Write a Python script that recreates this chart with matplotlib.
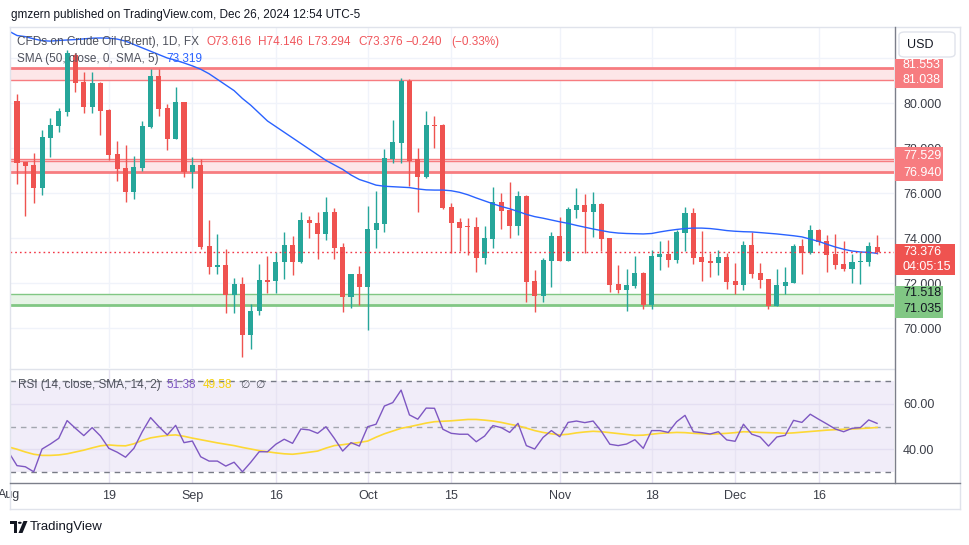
import matplotlib
matplotlib.use('Agg')
import matplotlib.pyplot as plt
from matplotlib.patches import Rectangle, FancyBboxPatch, Polygon, Circle
from matplotlib.lines import Line2D
from matplotlib.transforms import blended_transform_factory as blend
import numpy as np
import pandas as pd

plt.rcParams['font.family'] = ['Liberation Sans', 'DejaVu Sans']

# ---------------- data ----------------
dates = pd.bdate_range('2024-08-01', '2024-12-26')
dates = dates[dates != pd.Timestamp('2024-12-25')]

opens = [81.47, 80.09, 77.37, 77.24, 76.24, 78.46, 79.00, 79.62, 82.13, 80.93,
         79.84, 80.89, 79.69, 77.73, 77.11, 76.06, 77.12, 78.95, 81.20, 79.78,
         78.41, 80.04, 76.92, 77.23, 73.64, 72.70, 72.79, 71.45, 71.94, 69.70,
         70.74, 72.12, 72.08, 72.92, 73.68, 72.92, 74.80, 74.67, 74.19, 75.16,
         73.60, 71.39, 72.40, 71.84, 74.37, 74.64, 77.51, 78.24, 80.99, 77.50,
         76.70, 79.02, 79.02, 75.38, 74.71, 74.50, 74.49, 73.12, 73.97, 75.60,
         75.24, 74.55, 75.87, 72.09, 71.44, 72.99, 74.09, 72.99, 75.24, 75.47,
         75.17, 75.51, 74.00, 71.96, 71.69, 71.87, 72.44, 71.02, 73.16, 73.29,
         73.02, 74.22, 75.11, 73.16, 72.98, 72.89, 73.16, 72.09, 71.91, 73.69,
         72.44, 72.18, 70.98, 71.87, 72.00, 73.64, 73.33, 74.36, 73.87, 73.29,
         72.84, 72.62, 72.93, 72.93, 73.616]
highs = [81.60, 80.40, 77.40, 77.76, 78.80, 79.33, 79.80, 82.36, 82.22, 81.36,
         81.36, 80.92, 79.72, 78.31, 78.13, 77.64, 79.20, 81.50, 81.50, 79.97,
         80.72, 80.06, 77.59, 77.50, 74.79, 74.18, 73.50, 72.21, 72.25, 71.05,
         72.83, 73.19, 73.36, 74.25, 74.09, 75.14, 74.99, 75.16, 75.84, 75.33,
         73.78, 72.40, 72.76, 75.44, 76.09, 77.96, 79.24, 81.10, 81.06, 78.00,
         79.64, 79.42, 79.05, 75.56, 74.89, 74.89, 74.93, 74.53, 76.28, 76.00,
         76.49, 76.09, 75.90, 72.58, 73.11, 74.27, 74.93, 75.38, 76.22, 75.96,
         76.04, 75.55, 74.02, 72.79, 72.62, 73.19, 72.47, 73.47, 73.87, 73.91,
         74.36, 75.38, 75.33, 74.31, 73.33, 73.47, 73.33, 72.89, 73.87, 74.27,
         72.89, 72.20, 72.62, 72.71, 73.73, 73.96, 74.58, 74.38, 74.13, 74.18,
         73.87, 73.29, 73.38, 73.82, 74.146]
lows = [79.90, 76.40, 75.00, 75.57, 75.92, 77.60, 78.73, 79.44, 80.50, 79.57,
        79.57, 78.59, 77.47, 76.55, 75.61, 75.75, 76.99, 78.90, 79.42, 77.92,
        78.38, 76.70, 76.21, 73.52, 72.39, 72.39, 70.65, 70.65, 68.70, 69.05,
        70.60, 71.54, 71.54, 72.16, 72.34, 72.90, 74.01, 73.08, 73.91, 73.08,
        70.73, 70.90, 71.04, 69.92, 73.57, 74.28, 77.35, 77.35, 76.33, 75.17,
        76.68, 78.00, 75.30, 73.35, 73.42, 73.24, 72.50, 72.86, 73.57, 74.41,
        74.01, 74.15, 71.17, 70.73, 71.17, 71.84, 72.97, 72.97, 74.90, 73.35,
        74.06, 73.44, 71.61, 71.56, 70.77, 71.78, 70.86, 70.86, 72.58, 72.71,
        72.89, 73.42, 72.84, 72.09, 72.27, 72.36, 71.73, 71.51, 71.69, 72.22,
        71.78, 70.84, 70.96, 71.51, 71.98, 72.40, 73.29, 73.69, 72.49, 72.62,
        72.53, 72.00, 71.96, 72.76, 73.294]
closes = [80.05, 77.35, 77.20, 76.24, 78.49, 79.02, 79.64, 82.20, 80.90, 79.84,
          80.89, 79.66, 77.70, 77.08, 76.06, 77.16, 78.98, 81.20, 79.75, 78.41,
          80.04, 76.92, 77.23, 73.61, 72.70, 72.79, 71.45, 71.94, 69.70, 70.74,
          72.12, 72.06, 72.92, 73.68, 72.92, 74.79, 74.65, 74.19, 75.16, 73.57,
          71.39, 72.40, 71.84, 74.40, 74.67, 77.56, 78.27, 80.99, 77.44, 76.70,
          79.02, 78.99, 75.35, 74.68, 74.46, 74.48, 73.12, 74.00, 75.60, 75.21,
          74.55, 75.87, 72.06, 71.44, 73.02, 74.09, 72.99, 75.29, 75.47, 75.17,
          75.51, 73.97, 71.92, 71.69, 71.91, 72.44, 71.02, 73.20, 73.29, 73.02,
          74.27, 75.11, 73.11, 72.93, 72.89, 73.16, 72.04, 71.91, 73.69, 72.40,
          72.13, 70.98, 71.91, 72.04, 73.64, 73.33, 74.36, 73.82, 73.24, 72.80,
          72.62, 72.93, 72.98, 73.64, 73.376]
sma50 = [83.20, 83.00, 82.95, 82.85, 82.77, 82.75, 82.78, 82.80, 82.82, 82.85,
         82.88, 82.89, 82.88, 82.84, 82.75, 82.60, 82.45, 82.30, 82.15, 82.00,
         81.90, 81.78, 81.65, 81.50, 81.30, 81.05, 80.80, 80.55, 80.20, 79.90,
         79.55, 79.20, 78.95, 78.70, 78.45, 78.20, 77.95, 77.70, 77.45, 77.25,
         77.05, 76.80, 76.60, 76.48, 76.35, 76.30, 76.28, 76.26, 76.24, 76.18,
         76.14, 76.13, 76.13, 76.10, 76.03, 75.92, 75.78, 75.65, 75.52, 75.40,
         75.30, 75.18, 75.05, 74.95, 74.88, 74.80, 74.72, 74.65, 74.56, 74.48,
         74.40, 74.33, 74.26, 74.22, 74.20, 74.19, 74.18, 74.20, 74.27, 74.33,
         74.38, 74.42, 74.44, 74.44, 74.42, 74.38, 74.33, 74.30, 74.28, 74.27,
         74.24, 74.21, 74.18, 74.14, 74.10, 74.05, 73.95, 73.85, 73.72, 73.60,
         73.50, 73.42, 73.38, 73.36, 73.319]
rsi = [38.7, 32.8, 32.3, 30.1, 40.1, 42.3, 44.8, 52.6, 49.2, 46.0,
       49.5, 45.8, 40.4, 38.7, 36.5, 40.4, 47.7, 53.9, 49.9, 46.3,
       50.5, 42.9, 43.6, 36.7, 34.8, 34.8, 32.6, 34.3, 30.1, 34.3,
       38.9, 38.9, 42.2, 44.4, 42.6, 48.9, 48.5, 47.0, 49.9, 44.8,
       39.2, 42.9, 41.4, 49.9, 51.0, 59.0, 60.5, 66.0, 55.1, 53.2,
       58.1, 58.0, 48.8, 47.0, 46.6, 46.6, 43.3, 45.8, 50.4, 49.5,
       47.4, 51.4, 41.6, 40.1, 45.2, 48.2, 45.5, 51.8, 52.4, 51.7,
       52.4, 47.8, 42.2, 41.6, 42.3, 44.2, 40.4, 48.2, 48.2, 47.4,
       52.1, 54.9, 47.7, 47.3, 46.7, 47.7, 44.1, 43.5, 51.0, 46.6,
       45.4, 41.4, 45.4, 46.1, 52.7, 51.8, 55.4, 53.2, 51.1, 48.9,
       47.7, 49.2, 49.5, 52.9, 51.38]
rsi_sma = [41.0, 40.0, 38.8, 37.8, 37.3, 37.3, 37.5, 38.0, 38.8, 39.6,
           40.6, 41.5, 41.9, 41.6, 41.5, 42.4, 43.9, 45.0, 45.6, 46.1,
           46.3, 45.7, 44.9, 44.2, 43.5, 42.8, 42.2, 41.6, 40.8, 40.1,
           39.4, 38.9, 38.4, 38.0, 37.8, 38.2, 38.7, 39.2, 40.5, 41.6,
           42.0, 42.5, 43.0, 43.6, 45.3, 46.8, 48.0, 49.2, 49.9, 50.7,
           51.5, 52.1, 52.3, 52.5, 52.8, 53.1, 53.1, 52.8, 52.4, 51.8,
           51.0, 50.3, 49.3, 48.2, 47.4, 46.8, 46.3, 46.6, 47.2, 47.6,
           47.9, 47.7, 47.3, 46.9, 46.5, 46.1, 46.2, 46.6, 47.0, 47.2,
           47.4, 47.3, 47.0, 46.8, 46.6, 46.8, 47.0, 47.3, 47.7, 47.6,
           47.4, 47.3, 47.2, 47.0, 47.2, 47.5, 47.8, 48.1, 48.4, 48.6,
           48.8, 48.9, 49.1, 49.3, 49.58]

zone_top = (81.038, 81.553)
zone_mid = (76.940, 77.529)
zone_mid_inner = 77.42
zone_low = (71.035, 71.518)
last_close = 73.376
price_grid = [70, 72, 74, 76, 78, 80, 82]
price_ticks = [70, 72, 74, 76, 78, 80]
rsi_ticks = [40, 60]
rsi_levels = [70, 50, 30]
tick_dates = ['2024-08-19', '2024-09-02', '2024-09-16', '2024-10-01', '2024-10-15',
              '2024-11-01', '2024-11-18', '2024-12-02', '2024-12-16']
tick_labels = ['19', 'Sep', '16', 'Oct', '15', 'Nov', '18', 'Dec', '16']

# ---------------- layout ----------------
W, H = 970, 545
fig = plt.figure(figsize=(W / 100, H / 100), dpi=100)
fig.patch.set_facecolor('white')

def fx(p):
    return p / W

def fy(p):
    return 1 - p / H

L0, R0 = 10, 894
T0, B0 = 27, 368
T1, B1 = 370, 483
BAR0, STEP = 8.65, 8.35          # pixel position of first bar, bar spacing
PX_PER_USD = 22.5
Y80 = 103                         # pixel of 80.000
PX_PER_RSI = 2.275
Y70 = 381

ax = fig.add_axes([fx(L0), fy(B0), (R0 - L0) / W, (B0 - T0) / H])
ax2 = fig.add_axes([fx(L0), fy(B1), (R0 - L0) / W, (B1 - T1) / H], sharex=ax)

GREEN = '#26a69a'
RED = '#ef5350'
GRID = '#f0f3fa'
TXT = '#131722'
GREY = '#4e515c'
AXT = '#3b3e48'

idx = np.arange(len(dates))
O = np.array(opens); Hh = np.array(highs); Lw = np.array(lows); C = np.array(closes)

for a in (ax, ax2):
    for s in a.spines.values():
        s.set_visible(False)
    a.set_facecolor('white')

ax.set_xlim((L0 - BAR0) / STEP, (R0 - BAR0) / STEP)
ax.set_ylim(80 - (B0 - Y80) / PX_PER_USD, 80 + (Y80 - T0) / PX_PER_USD)
ax2.set_ylim(30 - (B1 - (Y70 + 40 * PX_PER_RSI)) / PX_PER_RSI, 70 + (Y70 - T1) / PX_PER_RSI)

tick_pos = [int(np.where(dates == pd.Timestamp(d))[0][0]) for d in tick_dates]

# grids
for p in price_grid:
    ax.axhline(p, color=GRID, lw=1, zorder=0)
for t in tick_pos:
    ax.axvline(t, color=GRID, lw=1, zorder=0)

# zones
ax.axhspan(*zone_top, color='#fde6e8', lw=0, zorder=1)
ax.axhline(zone_top[1], color='#f77c80', lw=2, zorder=2)
ax.axhline(zone_top[0], color='#f77c80', lw=1, zorder=2)
ax.axhspan(*zone_mid, color='#fde6e8', lw=0, zorder=1)
ax.axhline(zone_mid[1], color='#f77c80', lw=1, zorder=2)
ax.axhline(zone_mid_inner, color='#f77c80', lw=1, zorder=2)
ax.axhline(zone_mid[0], color='#f77c80', lw=2, zorder=2)
ax.axhspan(*zone_low, color='#e6f4e6', lw=0, zorder=1)
ax.axhline(zone_low[1], color='#81c784', lw=1, zorder=2)
ax.axhline(zone_low[0], color='#81c784', lw=2, zorder=2)

# candles
up = C >= O
cols = np.where(up, GREEN, RED)
ax.vlines(idx, Lw, Hh, colors=cols, lw=1, zorder=3)
body_h = np.maximum(np.abs(C - O), 1.0 / PX_PER_USD)
ax.bar(idx, body_h, bottom=np.minimum(O, C), width=0.6, color=cols, lw=0, zorder=4)

# SMA
ax.plot(idx, sma50, color='#2962ff', lw=1, zorder=5)
# last price line
ax.axhline(last_close, color='#f23645', lw=1, ls=(0, (1.2, 2.2)), zorder=5)

ax.set_yticks(price_ticks)
ax.set_yticklabels([f'{p:.3f}' for p in price_ticks])
ax.yaxis.tick_right()
ax.tick_params(axis='y', length=0, pad=6.5, labelsize=9, labelcolor=AXT)
ax.tick_params(axis='x', length=0, labelbottom=False)

# RSI pane
ax2.axhspan(30, 70, color='#f1edf9', lw=0, zorder=0)
for t in tick_pos:
    ax2.axvline(t, color='#e7e3f3', lw=1, zorder=1)
for r in rsi_ticks:
    ax2.axhline(r, color='#e4dff2', lw=1, zorder=1)
ax2.axhline(rsi_levels[0], color='#787b86', lw=1, ls=(0, (4, 3.5)), zorder=2)
ax2.axhline(rsi_levels[1], color='#a3a6af', lw=1, ls=(0, (4, 3.5)), zorder=2)
ax2.axhline(rsi_levels[2], color='#787b86', lw=1, ls=(0, (4, 3.5)), zorder=2)
ax2.plot(idx, rsi_sma, color='#fdd835', lw=1.2, zorder=3)
ax2.plot(idx, rsi, color='#7e57c2', lw=1, zorder=4)
ax2.set_yticks(rsi_ticks)
ax2.set_yticklabels([f'{r:.2f}' for r in rsi_ticks])
ax2.yaxis.tick_right()
ax2.tick_params(axis='y', length=0, pad=6.5, labelsize=9, labelcolor=AXT)
ax2.set_xticks(tick_pos)
ax2.set_xticklabels(tick_labels)
ax2.tick_params(axis='x', length=0, pad=5, labelsize=9, labelcolor=AXT)
# "Aug" label of bar 0 (Aug 1), partly beyond the left edge as in the original
ax2.text(0, fy(495), 'Aug', transform=blend(ax2.transData, fig.transFigure),
         ha='center', va='center', fontsize=9, color=AXT)

# ---------------- frame lines ----------------
def fline(x0, y0, x1, y1, color, lw=1, z=6):
    fig.add_artist(Line2D([fx(x0), fx(x1)], [fy(y0), fy(y1)], color=color, lw=lw, zorder=z))

fline(L0, T0, 960, T0, '#e0e3eb')
fline(L0, T0, L0, 509, '#e0e3eb')
fline(960, T0, 960, 509, '#e0e3eb')
fline(L0, 509, 960, 509, '#e0e3eb')
fline(L0, 369, R0, 369, '#e0e3eb')
fline(R0 + 0.5, T0, R0 + 0.5, 483, '#7c7f8a')
fline(L0, 483, 960, 483, '#7c7f8a')

# ---------------- texts ----------------
renderer = fig.canvas.get_renderer()

def put(x, y, s, color, size=9, w=None, ha='left', **kw):
    t = fig.text(fx(x), fy(y), s, color=color, fontsize=size, va='center', ha=ha, zorder=8, **kw)
    if w is not None:
        bw = t.get_window_extent(renderer).width
        if bw > 0:
            t.set_fontsize(size * w / bw)
    return t

put(10.7, 15, 'gmzern published on TradingView.com, Dec 26, 2024 12:54 UTC-5', TXT, 10, w=351)

s1 = put(17, 42, 'CFDs on Crude Oil (Brent), 1D, FX', GREY, 9, w=182).get_fontsize()
LRED = '#f0565c'
for xx, ss in [(207, 'O73.616'), (258, 'H74.146'), (308, 'L73.294'), (358, 'C73.376'),
               (405, '\u22120.240'), (451, '(\u22120.33%)')]:
    put(xx, 42, ss, LRED, s1)
put(17, 59, 'SMA (50, close, 0, SMA, 5)', GREY, s1)
put(166, 59, '73.319', '#2962ff', s1)

put(18, 385, 'RSI (14, close, SMA, 14, 2)', GREY, s1)
put(166, 385, '51.38', '#7e57c2', s1)
put(203, 385, '49.58', '#f5d20f', s1)
put(240, 385, '\u2205', GREY, s1 * 0.9)
put(255, 385, '\u2205', GREY, s1 * 0.9)

# price axis badges
def badge(x0, y0, x1, y1, color):
    fig.add_artist(Rectangle((fx(x0), fy(y1)), (x1 - x0) / W, (y1 - y0) / H,
                             transform=fig.transFigure, facecolor=color, lw=0, zorder=7))

badge(895, 59, 943, 88, '#f77c80')
put(903, 65, '81.553', 'white', 9)
put(903, 80, '81.038', 'white', 9)
badge(895, 147, 943, 181, '#f77c80')
put(903, 156, '77.529', 'white', 9)
put(903, 173, '76.940', 'white', 9)
badge(895, 244, 955, 275, RED)
put(903, 252, '73.376', 'white', 9)
put(903, 267, '04:05:15', 'white', 9)
badge(895, 286, 943, 318, '#81c784')
put(903, 293, '71.518', TXT, 9)
put(903, 309, '71.035', TXT, 9)

# USD box
fig.add_artist(FancyBboxPatch((fx(899), fy(57)), 56 / W, 25 / H,
                              boxstyle='round,pad=0,rounding_size=0.006',
                              transform=fig.transFigure, facecolor='white',
                              edgecolor='#e0e3eb', lw=1, zorder=7))
put(907, 45, 'USD', TXT, 9)

# TradingView logo
def px_poly(pts, color):
    fig.add_artist(Polygon([(fx(a), fy(b)) for a, b in pts], closed=True,
                           transform=fig.transFigure, facecolor=color, lw=0, zorder=7))

px_poly([(10, 521), (17, 521), (17, 533), (14, 533), (14, 524), (10, 524)], TXT)
fig.add_artist(Circle((fx(19.8), fy(522.8)), 1.9 / W, transform=fig.transFigure,
                      facecolor=TXT, lw=0, zorder=7))
px_poly([(23.5, 521), (27.5, 521), (22.5, 533), (18.5, 533)], TXT)
put(30, 527, 'TradingView', TXT, 10, w=73)

fig.savefig('out.png', dpi=100, facecolor='white')
